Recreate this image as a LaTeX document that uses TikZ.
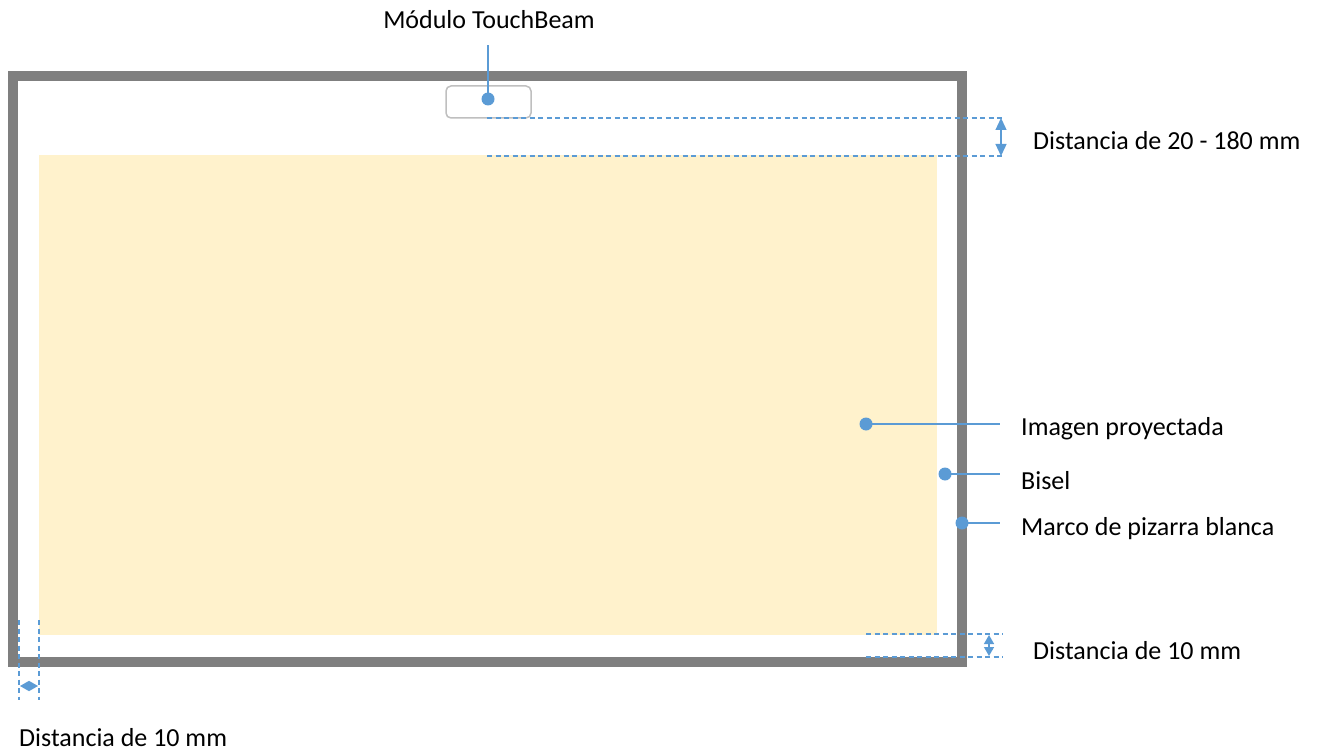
\documentclass[tikz,border=0pt]{standalone}
\usepackage{fontspec}
\setmainfont{Carlito}
\usetikzlibrary{arrows.meta}
\definecolor{frameg}{HTML}{7F7F7F}
\definecolor{imgy}{HTML}{FFF2CC}
\definecolor{lblue}{HTML}{5B9BD5}
\definecolor{boxg}{HTML}{BFBFBF}
\tikzset{
  dim/.style={lblue, line width=1.5pt, dash pattern=on 5pt off 3.5pt},
  lead/.style={lblue, line width=1.3pt},
  dot/.style={circle, fill=lblue, inner sep=0pt, minimum size=13pt},
  lbl/.style={font=\fontsize{26}{30}\selectfont, inner sep=0pt, anchor=base west},
  dimarrow/.style={lblue, line width=1.3pt, {Triangle[width=11pt,length=12pt]}-{Triangle[width=11pt,length=12pt]}},
  smallarrow/.style={lblue, line width=1.3pt, {Triangle[width=10pt,length=9pt]}-{Triangle[width=10pt,length=9pt]}}
}
\begin{document}
\begin{tikzpicture}[x=1pt,y=-1pt]
\useasboundingbox (0,0) rectangle (1321,751);
% projected image
\fill[imgy] (39,155) rectangle (937,635);
% frame
\draw[frameg, line width=10pt] (13,76) rectangle (962,662);
% module
\draw[boxg, line width=1.5pt, rounded corners=5pt] (446,86) rectangle (531,118);
% dimension lines top
\coordinate (t1a) at (487,118); \coordinate (t1b) at (1005,118);
\coordinate (t2a) at (487,156); \coordinate (t2b) at (1005,156);
\draw[dim] (t1a) -- (t1b);
\draw[dim] (t2a) -- (t2b);
\coordinate (ta) at (1001,118); \coordinate (tb) at (1001,156);
\draw[dimarrow] (ta) -- (tb);
\node[lbl] (d1) at (1033,150) {Distancia de 20 - 180 mm};
% module label
\node[dot] (mdot) at (488,99) {};
\node[font=\fontsize{26}{30}\selectfont, inner sep=0pt, anchor=base] (mlbl) at (489,29) {Módulo TouchBeam};
\coordinate (mtop) at (488,45);
\draw[lead] (mdot.center) -- (mtop);
% right leaders
\node[dot] (p1) at (866,424) {};
\node[dot] (p2) at (945,474) {};
\node[dot] (p3) at (962,523) {};
\coordinate (e1) at (1000,424);
\coordinate (e2) at (1000,474);
\coordinate (e3) at (1000,523);
\draw[lead] (p1.center) -- (e1);
\draw[lead] (p2.center) -- (e2);
\draw[lead] (p3.center) -- (e3);
\node[lbl] (l1) at (1021,435) {Imagen proyectada};
\node[lbl] (l2) at (1021,489) {Bisel};
\node[lbl] (l3) at (1021,535) {Marco de pizarra blanca};
% bottom right dimension
\coordinate (b1a) at (866,634); \coordinate (b1b) at (1003,634);
\coordinate (b2a) at (866,657); \coordinate (b2b) at (1003,657);
\draw[dim] (b1a) -- (b1b);
\draw[dim] (b2a) -- (b2b);
\coordinate (ba) at (989,635); \coordinate (bb) at (989,656);
\draw[smallarrow] (ba) -- (bb);
\node[lbl] (d2) at (1033,659) {Distancia de 10 mm};
% bottom left dimension
\coordinate (v1a) at (19,620); \coordinate (v1b) at (19,700);
\coordinate (v2a) at (39,620); \coordinate (v2b) at (39,700);
\draw[dim] (v1a) -- (v1b);
\draw[dim] (v2a) -- (v2b);
\coordinate (la) at (20,686); \coordinate (lb) at (38,686);
\draw[smallarrow] (la) -- (lb);
\node[lbl] (d3) at (19,746) {Distancia de 10 mm};
\end{tikzpicture}
\end{document}
